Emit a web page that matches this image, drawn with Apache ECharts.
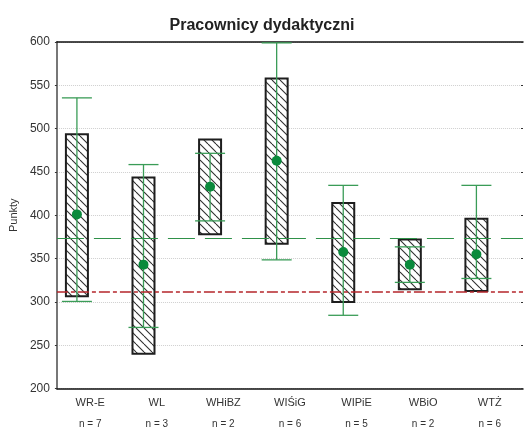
<!DOCTYPE html>
<html>
<head>
<meta charset="utf-8">
<style>
  html, body { margin: 0; padding: 0; background: #fff; }
  #chart { width: 524px; height: 429px; }
</style>
<script src="https://cdn.jsdelivr.net/npm/echarts@6/dist/echarts.min.js"></script>
</head>
<body>
<div id="chart"></div>
<script>
// Faculties and group sizes
const categories = ['WR-E', 'WL', 'WHiBZ', 'WIŚiG', 'WIPiE', 'WBiO', 'WTŻ'];
const counts = [7, 3, 2, 6, 5, 2, 6];

// Hatched box: lower and upper edge
const boxLow = [306.5, 240, 378, 367, 300, 314.5, 312.5];
const boxHigh = [493.5, 443.5, 487.5, 558, 414, 372, 396];

// Whisker range and mean
const whiskerLow = [300.5, 270.5, 393.5, 348.5, 284.5, 322.5, 327];
const whiskerHigh = [535.5, 458.5, 471.5, 599, 434.5, 363.5, 434.5];
const means = [401, 343, 433, 463, 357.5, 343, 355];

// Horizontal reference levels
const overallLevel = 374;
const lowerLevel = 311.5;

const yTicks = [200, 250, 300, 350, 400, 450, 500, 550, 600];

// Diagonal hatch tile
function makeHatch() {
  const s = 8;
  const c = document.createElement('canvas');
  c.width = s; c.height = s;
  const g = c.getContext('2d');
  g.fillStyle = '#ffffff';
  g.fillRect(0, 0, s, s);
  g.strokeStyle = '#2e2e2e';
  g.lineWidth = 1.1;
  [-s, 0, s].forEach(function (x0) {
    g.beginPath();
    g.moveTo(x0, 0);
    g.lineTo(x0 + s, s);
    g.stroke();
  });
  return c;
}
const hatch = makeHatch();

const SHIFT = -13.3;   // marks sit left of the category label
const BOX_W = 22;
const CAP_W = 30;

const boxData = categories.map(function (c, i) { return [i, boxLow[i], boxHigh[i]]; });
const whiskerData = categories.map(function (c, i) { return [i, whiskerLow[i], whiskerHigh[i], means[i]]; });

const chart = echarts.init(document.getElementById('chart'), null, { renderer: 'canvas' });

chart.setOption({
  animation: false,
  backgroundColor: '#ffffff',
  title: {
    text: 'Pracownicy dydaktyczni',
    left: 'center',
    top: 13,
    textStyle: { fontFamily: 'Liberation Sans, Arial, sans-serif', fontSize: 16, fontWeight: 'bold', color: '#222' }
  },
  grid: { left: 55, right: 1, top: 42, bottom: 39 },
  xAxis: [{
    type: 'category',
    data: categories,
    axisLine: { show: true, lineStyle: { color: '#111', width: 1.5 } },
    axisTick: { show: false },
    splitLine: { show: false },
    axisLabel: {
      interval: 0,
      margin: 7,
      fontFamily: 'Liberation Sans, Arial, sans-serif',
      formatter: function (v, i) { return '{c|' + v + '}\n{n|n = ' + counts[i] + '}'; },
      rich: {
        c: { fontSize: 11, color: '#333', lineHeight: 15, fontFamily: 'Liberation Sans, Arial, sans-serif' },
        n: { fontSize: 10, color: '#333', lineHeight: 27, fontFamily: 'Liberation Sans, Arial, sans-serif' }
      }
    }
  }, {
    type: 'category',
    position: 'top',
    data: categories,
    axisLine: { show: true, lineStyle: { color: '#111', width: 1.5 } },
    axisTick: { show: false },
    axisLabel: { show: false }
  }],
  yAxis: [{
    type: 'value',
    min: 200,
    max: 600,
    interval: 50,
    name: 'Punkty',
    nameLocation: 'middle',
    nameGap: 28,
    nameTextStyle: { fontFamily: 'Liberation Sans, Arial, sans-serif', fontSize: 11, color: '#333' },
    axisLine: { show: true, lineStyle: { color: '#777', width: 2 } },
    axisTick: { show: true, length: 2, lineStyle: { color: '#333' } },
    axisLabel: {
      margin: 7,
      fontFamily: 'Liberation Sans, Arial, sans-serif',
      fontSize: 12,
      color: '#333',
      formatter: function (v) { return yTicks.indexOf(v) >= 0 ? String(v) : ''; }
    },
    splitLine: { show: true, lineStyle: { color: '#cfcfcf', width: 1, type: 'dotted' } }
  }, {
    type: 'value',
    position: 'right',
    min: 200,
    max: 600,
    interval: 50,
    axisLine: { show: false },
    axisTick: { show: true, inside: true, length: 2, lineStyle: { color: '#333' } },
    axisLabel: { show: false },
    splitLine: { show: false }
  }],
  series: [{
    // hatched boxes
    type: 'custom',
    z: 2,
    data: boxData,
    renderItem: function (params, api) {
      const i = api.value(0);
      const lo = api.coord([i, api.value(1)]);
      const hi = api.coord([i, api.value(2)]);
      const x = lo[0] + SHIFT;
      return {
        type: 'rect',
        shape: { x: x - BOX_W / 2, y: hi[1], width: BOX_W, height: lo[1] - hi[1] },
        style: { fill: { image: hatch, repeat: 'repeat' }, stroke: '#1e1e1e', lineWidth: 2 }
      };
    }
  }, {
    // reference levels
    type: 'line',
    z: 3,
    data: [],
    markLine: {
      silent: true,
      symbol: 'none',
      label: { show: false },
      data: [
        { yAxis: overallLevel, lineStyle: { color: '#2f9149', width: 1.2, type: [27, 10] } },
        { yAxis: lowerLevel, lineStyle: { color: '#b5262b', width: 1.5, type: [11, 3, 4, 3] } }
      ]
    }
  }, {
    // whiskers and mean markers
    type: 'custom',
    z: 4,
    data: whiskerData,
    renderItem: function (params, api) {
      const i = api.value(0);
      const lo = api.coord([i, api.value(1)]);
      const hi = api.coord([i, api.value(2)]);
      const m = api.coord([i, api.value(3)]);
      const x = lo[0] + SHIFT;
      const ls = { stroke: '#3a9c57', lineWidth: 1.3 };
      return {
        type: 'group',
        children: [
          { type: 'line', shape: { x1: x, y1: lo[1], x2: x, y2: hi[1] }, style: ls },
          { type: 'line', shape: { x1: x - CAP_W / 2, y1: lo[1], x2: x + CAP_W / 2, y2: lo[1] }, style: ls },
          { type: 'line', shape: { x1: x - CAP_W / 2, y1: hi[1], x2: x + CAP_W / 2, y2: hi[1] }, style: ls },
          { type: 'circle', shape: { cx: x, cy: m[1], r: 5 }, style: { fill: '#0a8a3c' } }
        ]
      };
    }
  }]
});
</script>
</body>
</html>
